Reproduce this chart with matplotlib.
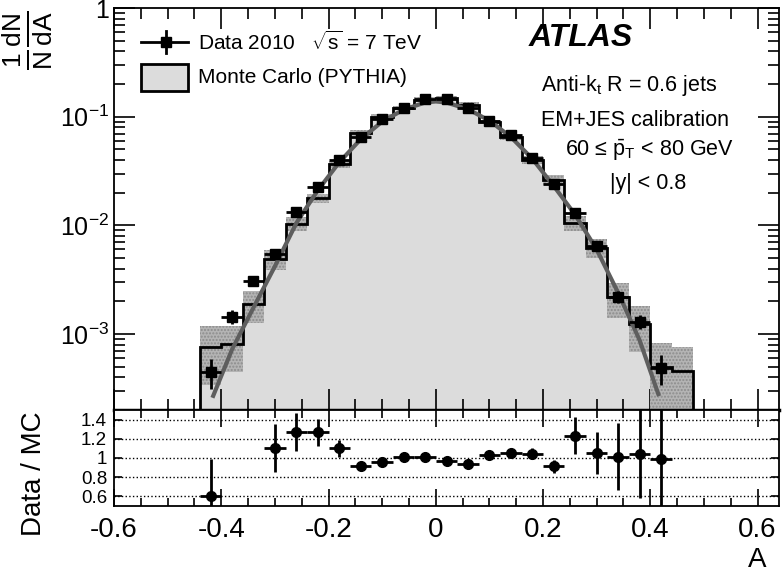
import numpy as np
import matplotlib
matplotlib.use('Agg')
import matplotlib.pyplot as plt
from matplotlib.lines import Line2D
from matplotlib.patches import Rectangle
from matplotlib.ticker import MultipleLocator, LogLocator, FixedLocator, NullFormatter

plt.rcParams['font.family'] = ['Liberation Sans', 'DejaVu Sans']
plt.rcParams['mathtext.fontset'] = 'custom'
plt.rcParams['mathtext.rm'] = 'Liberation Sans'
plt.rcParams['mathtext.it'] = 'Liberation Sans:italic'
plt.rcParams['mathtext.bf'] = 'Liberation Sans:bold'

# bin edges of the asymmetry histogram
edges = [-0.44, -0.40, -0.36, -0.32, -0.28, -0.24, -0.20, -0.16, -0.12, -0.08, -0.04, 0.0,
         0.04, 0.08, 0.12, 0.16, 0.20, 0.24, 0.28, 0.32, 0.36, 0.40, 0.44, 0.48]
mc = [7.6e-4, 8.1e-4, 1.88e-3, 4.9e-3, 1.04e-2, 1.77e-2, 3.64e-2, 7.07e-2, 0.0999, 0.120, 0.143,
      0.148, 0.129, 0.0895, 0.0644, 0.0402, 0.0263, 0.0105, 6.2e-3, 2.17e-3, 1.24e-3, 5.0e-4, 4.6e-4]
mc_unc = [0.55, 0.45, 0.33, 0.2, 0.15, 0.1, 0.08, 0.06, 0.05, 0.05, 0.05,
          0.05, 0.05, 0.05, 0.06, 0.08, 0.1, 0.15, 0.2, 0.35, 0.45, 0.65, 0.65]

# data 2010
data_x = [-0.42, -0.38, -0.34, -0.30, -0.26, -0.22, -0.18, -0.14, -0.10, -0.06, -0.02,
          0.02, 0.06, 0.10, 0.14, 0.18, 0.22, 0.26, 0.30, 0.34, 0.38, 0.42]
data_y = [4.5e-4, 1.44e-3, 3.1e-3, 5.4e-3, 1.32e-2, 2.24e-2, 4.0e-2, 6.5e-2, 9.6e-2, 0.121, 0.144,
          0.144, 0.121, 0.092, 0.068, 0.042, 0.024, 0.0129, 6.5e-3, 2.2e-3, 1.3e-3, 4.9e-4]
data_rel_err = [0.3, 0.15, 0.08, 0.06, 0.04, 0.03, 0.03, 0.03, 0.03, 0.03, 0.03,
                0.03, 0.03, 0.03, 0.03, 0.03, 0.03, 0.05, 0.06, 0.12, 0.15, 0.3]

# ratio data / MC (nan = off scale)
ratio = [0.60, np.nan, np.nan, 1.099, 1.268, 1.268, 1.10, 0.919, 0.961, 1.007, 1.007,
         0.972, 0.94, 1.028, 1.056, 1.046, 0.912, 1.233, 1.053, 1.014, 1.046, 0.986]
ratio_err = [0.39, 0, 0, 0.25, 0.2, 0.14, 0.09, 0.03, 0.03, 0.02, 0.02,
             0.02, 0.03, 0.03, 0.04, 0.06, 0.07, 0.19, 0.22, 0.35, 0.46, 0.6]

# fitted curve
fit_x = [-0.415, -0.38, -0.34, -0.30, -0.26, -0.22, -0.18, -0.14, -0.10, -0.06, -0.02, 0.0,
         0.02, 0.06, 0.10, 0.14, 0.18, 0.22, 0.26, 0.30, 0.34, 0.38, 0.415]
fit_y = [2.7e-4, 7.2e-4, 1.75e-3, 4.2e-3, 1.05e-2, 2.1e-2, 3.8e-2, 6.2e-2, 9.0e-2, 0.116, 0.135, 0.138,
         0.135, 0.117, 0.092, 0.065, 0.041, 0.023, 1.25e-2, 6.0e-3, 2.4e-3, 8.8e-4, 2.8e-4]

W, H = 783, 580
fig = plt.figure(figsize=(W/100, H/100), dpi=100)
ax1 = fig.add_axes([114/W, 1-410/H, 665/W, 402/H])
ax2 = fig.add_axes([114/W, 1-506/H, 665/W, 96/H])

def fx(px): return px/W
def fy(py): return 1-py/H

mc = np.array(mc); mc_unc = np.array(mc_unc)
lo = np.clip(mc*(1-mc_unc), 1e-6, None)
hi = mc*(1+mc_unc)

ax1.stairs(mc, edges, baseline=1e-6, fill=True, color='#dcdcdc', zorder=1)
ax1.stairs(hi, edges, baseline=lo, fill=True, facecolor='#b4b4b4', edgecolor='#8c8c8c',
           hatch='.....', linewidth=0, zorder=2)
ax1.stairs(mc, edges, baseline=1e-6, color='k', lw=2, zorder=3)
ax1.plot(fit_x, fit_y, color='#5e5e5e', lw=3, zorder=4)

dy = np.array(data_y)*np.array(data_rel_err)
ax1.errorbar(data_x, data_y, xerr=0.02, yerr=dy, fmt='s', color='k', ms=7,
             elinewidth=2, capsize=0, zorder=5)

ax1.set_xlim(-0.6, 0.64)
ax1.set_yscale('log')
ax1.set_ylim(2e-4, 1)
ax1.xaxis.set_major_locator(MultipleLocator(0.2))
ax1.xaxis.set_minor_locator(MultipleLocator(0.05))
ax1.xaxis.set_major_formatter(NullFormatter())
ax1.yaxis.set_major_locator(FixedLocator([1e-3, 1e-2, 1e-1, 1]))
ax1.yaxis.set_minor_locator(LogLocator(base=10, subs=np.arange(2, 10)))
ax1.yaxis.set_minor_formatter(NullFormatter())
ax1.set_yticklabels(['$10^{-3}$', '$10^{-2}$', '$10^{-1}$', '1'])
ax1.tick_params(which='both', direction='in', top=True, right=True, width=1.2, labelsize=18)
ax1.tick_params(which='major', length=15)
ax1.tick_params(which='minor', length=8)
for s in ax1.spines.values():
    s.set_linewidth(1.3)
ax1.spines['bottom'].set_linewidth(2.5)

# legend drawn by hand (ROOT style)
fig.add_artist(Line2D([fx(141), fx(188)], [fy(42), fy(42)], color='k', lw=2))
fig.add_artist(Line2D([fx(166), fx(166)], [fy(31), fy(53)], color='k', lw=2))
fig.add_artist(Line2D([fx(166)], [fy(42)], marker='s', ms=7, color='k'))
fig.add_artist(Rectangle((fx(141), fy(91)), fx(47), 27/H, facecolor='#dcdcdc',
                         edgecolor='k', lw=2))
fig.text(fx(198), fy(42), 'Data 2010   $\\sqrt{\\rm s}$ = 7 TeV', fontsize=15, va='center')
fig.text(fx(198), fy(78), 'Monte Carlo (PYTHIA)', fontsize=15, va='center')

fig.text(fx(529), fy(38), 'ATLAS', fontsize=23, fontweight='bold', fontstyle='italic', va='center')
fig.text(fx(541), fy(86), 'Anti-k$_{\\rm t}$ R = 0.6 jets', fontsize=15.5, va='center')
fig.text(fx(541), fy(120), 'EM+JES calibration', fontsize=15.5, va='center')
fig.text(fx(565), fy(150), '60 \u2264 $\\bar{\\rm p}_{\\rm T}$ < 80 GeV', fontsize=15.5, va='center')
fig.text(fx(610), fy(183), '|y| < 0.8', fontsize=15.5, va='center')

fig.text(fx(28), fy(40), '$\\frac{\\rm 1}{\\rm N}\\frac{\\rm dN}{\\rm dA}$', rotation=90, fontsize=27,
         ha='center', va='center')

# ratio panel
ax2.errorbar(data_x, ratio, xerr=0.02, yerr=ratio_err, fmt='o', color='k', ms=7,
             elinewidth=2, capsize=0, zorder=5)
ax2.set_xlim(-0.6, 0.64)
ax2.set_ylim(0.5, 1.5)
for yv in [0.6, 0.8, 1.0, 1.2, 1.4]:
    ax2.axhline(yv, color='k', ls=':', lw=1, zorder=1)
ax2.xaxis.set_minor_locator(MultipleLocator(0.05))
ax2.yaxis.set_major_locator(FixedLocator([0.6, 0.8, 1.0, 1.2, 1.4]))
ax2.set_yticklabels(['0.6', '0.8', '1', '1.2', '1.4'])
ax2.set_xticks([-0.6, -0.4, -0.2, 0, 0.2, 0.4, 0.6])
ax2.set_xticklabels(['-0.6', '-0.4', '-0.2', '0', '0.2', '0.4', '0.6'])
ax2.tick_params(which='both', direction='in', top=True, right=True, width=1.2)
ax2.tick_params(axis='x', which='major', length=12, labelsize=20, pad=8)
ax2.tick_params(axis='x', which='minor', length=6)
ax2.tick_params(axis='y', which='major', length=6, labelsize=13.5, pad=5)
for s in ax2.spines.values():
    s.set_linewidth(1.3)

fig.text(fx(34), fy(474), 'Data / MC', rotation=90, fontsize=20, ha='center', va='center')
fig.text(fx(757), fy(560), 'A', fontsize=20, ha='center', va='center')

fig.savefig('out.png', dpi=100)
